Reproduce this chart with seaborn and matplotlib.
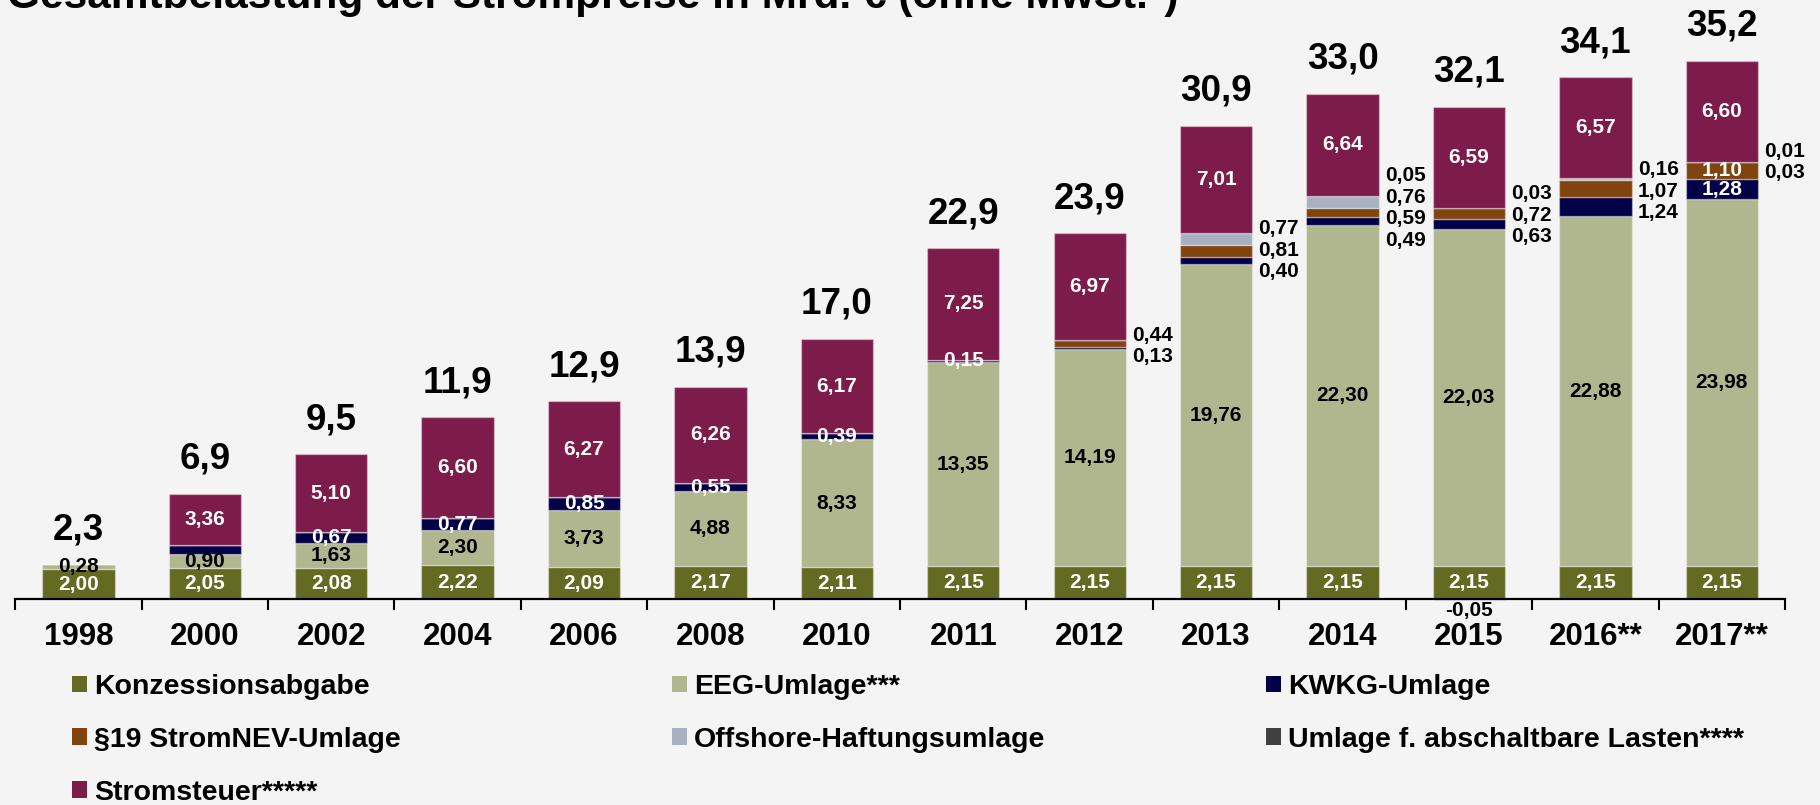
"""
Gesamtbelastung der Strompreise - gestapeltes Balkendiagramm
"""

import matplotlib
matplotlib.use('Agg')
import matplotlib.pyplot as plt
from matplotlib.patches import Patch
import seaborn as sns
import numpy as np
import pandas as pd

# Daten in Mrd. Euro
jahre = ['1998', '2000', '2002', '2004', '2006', '2008', '2010', '2011',
         '2012', '2013', '2014', '2015', '2016**', '2017**']
konzession = [2.00, 2.05, 2.08, 2.22, 2.09, 2.17, 2.11, 2.15, 2.15, 2.15, 2.15, 2.15, 2.15, 2.15]
eeg = [0.28, 0.90, 1.63, 2.30, 3.73, 4.88, 8.33, 13.35, 14.19, 19.76, 22.30, 22.03, 22.88, 23.98]
kwkg = [0, 0.59, 0.67, 0.77, 0.85, 0.55, 0.39, 0.15, 0.13, 0.40, 0.49, 0.63, 1.24, 1.28]
stromnev = [0, 0, 0, 0, 0, 0, 0, 0, 0.44, 0.81, 0.59, 0.72, 1.07, 1.10]
offshore = [0, 0, 0, 0, 0, 0, 0, 0, 0, 0.77, 0.76, -0.05, 0.16, 0.03]
abschaltbar = [0, 0, 0, 0, 0, 0, 0, 0, 0, 0, 0.05, 0.03, 0, 0.01]
stromsteuer = [0, 3.36, 5.10, 6.60, 6.27, 6.26, 6.17, 7.25, 6.97, 7.01, 6.64, 6.59, 6.57, 6.60]
gesamt = [2.3, 6.9, 9.5, 11.9, 12.9, 13.9, 17.0, 22.9, 23.9, 30.9, 33.0, 32.1, 34.1, 35.2]

komponenten = ['Konzessionsabgabe', 'EEG-Umlage***', 'KWKG-Umlage', '§19 StromNEV-Umlage',
               'Offshore-Haftungsumlage', 'Umlage f. abschaltbare Lasten****', 'Stromsteuer*****']
werte = [konzession, eeg, kwkg, stromnev, offshore, abschaltbar, stromsteuer]
farben = ['#636B23', '#B0B68E', '#020046', '#80440E', '#A7B1C1', '#404040', '#7D1B4A']
textfarben = ['white', 'black', 'white', 'white', 'black', 'black', 'white']

# Beschriftung: welche kleinen Anteile rechts neben dem Balken stehen
aussen = {
    '2012': ['KWKG-Umlage', '§19 StromNEV-Umlage'],
    '2013': ['KWKG-Umlage', '§19 StromNEV-Umlage', 'Offshore-Haftungsumlage'],
    '2014': ['KWKG-Umlage', '§19 StromNEV-Umlage', 'Offshore-Haftungsumlage',
             'Umlage f. abschaltbare Lasten****'],
    '2015': ['KWKG-Umlage', '§19 StromNEV-Umlage', 'Umlage f. abschaltbare Lasten****'],
    '2016**': ['KWKG-Umlage', '§19 StromNEV-Umlage', 'Offshore-Haftungsumlage'],
    '2017**': ['Offshore-Haftungsumlage', 'Umlage f. abschaltbare Lasten****'],
}
ohne_label = [('2000', 'KWKG-Umlage')]
unter_achse = [('2015', 'Offshore-Haftungsumlage')]

BG = '#F4F4F4'
BAR_W = 0.572


def fmt(v, nd=2):
    return f'{v:.{nd}f}'.replace('.', ',')


def main():
    sns.set_theme(style='white')
    plt.rcParams['font.family'] = ['Liberation Sans', 'DejaVu Sans']
    plt.rcParams['text.color'] = 'black'
    plt.rcParams['xtick.color'] = 'black'
    plt.rcParams['xtick.labelcolor'] = 'black'

    fig = plt.figure(figsize=(18.2, 8.05), dpi=100, facecolor=BG)
    ax = fig.add_axes([0.00835, 0.2363, 0.9724, 0.7637])
    ax.set_facecolor(BG)

    df = pd.DataFrame({'Jahr': np.repeat(jahre, len(komponenten)),
                       'Komponente': komponenten * len(jahre),
                       'Wert': np.array(werte).T.ravel()})

    boden = np.zeros(len(jahre))
    segmente = {}
    for name, farbe in zip(komponenten, farben):
        sub = df[df['Komponente'] == name].set_index('Jahr').loc[jahre].reset_index()
        vals = sub['Wert'].to_numpy()
        unten = np.where(vals < 0, 0, boden)
        sns.barplot(data=sub, x='Jahr', y='Wert', order=jahre, color=farbe,
                    saturation=1, width=BAR_W, bottom=unten, errorbar=None,
                    edgecolor=(1, 1, 1, 0.35), linewidth=1, ax=ax)
        segmente[name] = (unten.copy(), vals)
        boden = boden + np.where(vals > 0, vals, 0)

    # Werte in / neben den Balken
    for i, jahr in enumerate(jahre):
        aussen_liste = []
        for k, name in enumerate(komponenten):
            unten, vals = segmente[name]
            v = vals[i]
            if v == 0 or (jahr, name) in ohne_label:
                continue
            mitte = unten[i] + v / 2
            if (jahr, name) in unter_achse:
                ax.text(i, -0.7, fmt(v), ha='center', va='center', fontsize=15,
                        fontweight='bold', color='black')
            elif name in aussen.get(jahr, []):
                aussen_liste.append((mitte, v))
            else:
                ax.text(i, mitte, fmt(v), ha='center', va='center', fontsize=15,
                        fontweight='bold', color=textfarben[k])
        if aussen_liste:
            m = np.mean([a[0] for a in aussen_liste])
            n = len(aussen_liste)
            for j, (_, v) in enumerate(aussen_liste):
                y = m + (j - (n - 1) / 2) * 1.4
                ax.text(i + BAR_W / 2 + 0.05, y, fmt(v), ha='left', va='center',
                        fontsize=15, fontweight='bold', color='black')

    # Summen oberhalb der Balken
    for i, total in enumerate(gesamt):
        ax.annotate(fmt(total, 1), (i, boden[i]), xytext=(0, 18),
                    textcoords='offset points', ha='center', va='baseline',
                    fontsize=26.5, fontweight='bold', color='black')

    ax.set_xlim(-0.5, len(jahre) - 0.5)
    ax.set_ylim(-1, 39.1)
    ax.set_xlabel('')
    ax.set_ylabel('')
    ax.set_yticks([])
    for s in ['left', 'top', 'right']:
        ax.spines[s].set_visible(False)
    ax.spines['bottom'].set_position(('data', 0))
    ax.spines['bottom'].set_linewidth(1.6)
    ax.spines['bottom'].set_color('black')
    ax.set_xticks(np.arange(-0.5, len(jahre)), minor=True)
    ax.tick_params(axis='x', which='minor', length=8, width=1.5, color='black',
                   direction='out', bottom=True)
    ax.tick_params(axis='x', which='major', length=0, pad=16, labelsize=22.5,
                   labelcolor='black')
    for lab in ax.get_xticklabels():
        lab.set_fontweight('bold')

    fig.text(7 / 1820, 1 - 8 / 805, 'Gesamtbelastung der Strompreise in Mrd. € (ohne MwSt.*)',
             ha='left', va='baseline', fontsize=30.5, fontweight='bold', color='black')

    # Legende zeilenweise in drei Spalten
    handles = [Patch(facecolor=f, edgecolor='none', label=n) for n, f in zip(komponenten, farben)]
    spalten = [[0, 3, 6], [1, 4], [2, 5]]
    x_pos = [72 / 1820, 672 / 1820, 1266 / 1820]
    for idx, x in zip(spalten, x_pos):
        fig.legend(handles=[handles[j] for j in idx], loc='upper left',
                   bbox_to_anchor=(x, 0.1627), frameon=False, labelcolor='black',
                   prop={'weight': 'bold', 'size': 20.5}, handlelength=0.53,
                   handleheight=0.53, handletextpad=0.25, labelspacing=0.94,
                   borderaxespad=0, borderpad=0)

    fig.savefig('out.png', dpi=100, facecolor=BG)
    plt.close(fig)


if __name__ == '__main__':
    main()
